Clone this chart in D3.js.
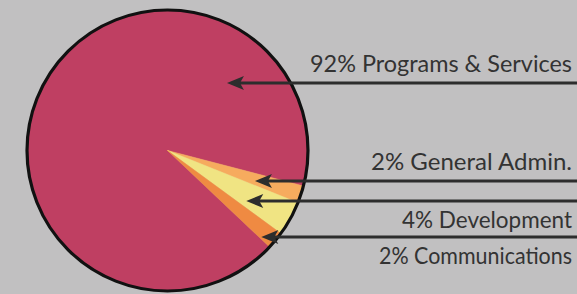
<!DOCTYPE html>
<html>
<head>
<meta charset="utf-8">
<style>
  html, body { margin: 0; padding: 0; background: #c1c0c1; }
  svg { display: block; }
  .label { font-family: Lato, "Open Sans", sans-serif; font-size: 23.5px; fill: #333; }
</style>
</head>
<body>
<div id="chart"></div>
<script src="https://d3js.org/d3.v7.min.js"></script>
<script>
var categories = ["Programs & Services", "General Admin.", "Development", "Communications"];
var shares = [92, 2, 4, 2];
var labels = ["92% Programs & Services", "2% General Admin.", "4% Development", "2% Communications"];
var colors = ["#bf3f62", "#f6ab5e", "#f0e483", "#ef8a42"];

// where each arrow points (screen angle in degrees, fraction of radius), label side, label width
var arrowTips = [[-48.6, 0.64], [19.4, 0.66], [32.8, 0.667], [42.8, 0.91]];
var labelSide = ["above", "above", "below", "below"];
var labelWidths = [262, 201, 170, 193];

var width = 577, height = 294;
var cx = 167.5, cy = 150.5, r = 140.5;

var data = categories.map(function(c, i) { return { name: c, value: shares[i], label: labels[i] }; });

var svg = d3.select("#chart").append("svg")
    .attr("width", width)
    .attr("height", height);

var g = svg.append("g").attr("transform", "translate(" + cx + "," + cy + ")");

// programs slice ends just below 3 o'clock
var gaStart = (90 + 14.6) * Math.PI / 180;
var start = gaStart - 2 * Math.PI * shares[0] / d3.sum(shares);

var pie = d3.pie().sort(null).value(function(d) { return d.value; })
    .startAngle(start).endAngle(start + 2 * Math.PI);

var arc = d3.arc().innerRadius(0).outerRadius(r);

g.selectAll("path.slice")
    .data(pie(data))
    .enter()
    .append("path")
    .attr("class", "slice")
    .attr("d", arc)
    .attr("fill", function(d, i) { return colors[i]; })
    .attr("stroke", function(d, i) { return colors[i]; })
    .attr("stroke-width", 0.5);

g.append("circle")
    .attr("r", r)
    .attr("fill", "none")
    .attr("stroke", "#111")
    .attr("stroke-width", 3.2);

// arrows + labels
var ann = svg.append("g");
data.forEach(function(d, i) {
    var a = arrowTips[i][0] * Math.PI / 180;
    var tx = cx + Math.cos(a) * r * arrowTips[i][1];
    var ty = Math.round(cy + Math.sin(a) * r * arrowTips[i][1]);

    ann.append("line")
        .attr("x1", tx + 10).attr("y1", ty)
        .attr("x2", width).attr("y2", ty)
        .attr("stroke", "#2d2d2d")
        .attr("stroke-width", 3);

    ann.append("path")
        .attr("d", "M" + tx + "," + ty +
            " L" + (tx + 17) + "," + (ty - 7) +
            " L" + (tx + 13) + "," + ty +
            " L" + (tx + 17) + "," + (ty + 7) + " Z")
        .attr("fill", "#2d2d2d");

    ann.append("text")
        .attr("class", "label")
        .attr("x", 572)
        .attr("y", labelSide[i] == "above" ? ty - 11 : ty + 27)
        .attr("text-anchor", "end")
        .attr("textLength", labelWidths[i])
        .attr("lengthAdjust", "spacingAndGlyphs")
        .text(d.label);
});
</script>
</body>
</html>
